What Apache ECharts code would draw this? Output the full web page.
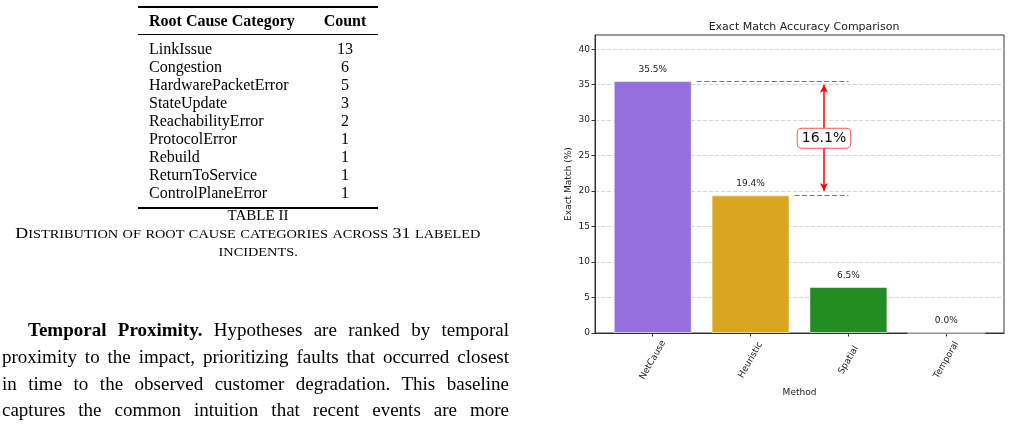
<!DOCTYPE html>
<html>
<head>
<meta charset="utf-8">
<script src="https://cdn.jsdelivr.net/npm/echarts@6/dist/echarts.min.js"></script>
<style>
  html, body { margin: 0; padding: 0; background: #fff; }
  #page { position: relative; width: 1011px; height: 425px; overflow: hidden; }
  #chart { position: absolute; left: 0; top: 0; width: 1011px; height: 425px; }
  .serif { font-family: "Liberation Serif", "Times New Roman", serif; color: #000; }
  .abs { position: absolute; white-space: nowrap; }
  .rule { position: absolute; left: 138px; width: 240px; background: #000; }
  .cell { position: absolute; font-size: 16px; line-height: 18px; }
  .para { position: absolute; font-size: 19px; line-height: 26px; width: 507px; left: 2px;
          text-align: justify; text-align-last: justify; white-space: nowrap; }
  .sc { font-size: 12px; }
  .capline { display: inline-block; transform-origin: 50% 50%; }
</style>
</head>
<body>
<div id="page">
  <div id="chart"></div>
  <div id="left" class="serif"></div>
</div>
<script>
// table on the left
var causeNames = ["LinkIssue", "Congestion", "HardwarePacketError", "StateUpdate",
  "ReachabilityError", "ProtocolError", "Rebuild", "ReturnToService", "ControlPlaneError"];
var causeCounts = [13, 6, 5, 3, 2, 1, 1, 1, 1];
var paraLines = [
  "Hypotheses are ranked by temporal",
  "proximity to the impact, prioritizing faults that occurred closest",
  "in time to the observed customer degradation. This baseline",
  "captures the common intuition that recent events are more",
  "likely to be causal."
];

// chart data
var methods = ["NetCause", "Heuristic", "Spatial", "Temporal"];
var accuracy = [35.5, 19.4, 6.5, 0.0];
var barColors = ["#9370DB", "#DAA520", "#228B22", "#DC143C"];
var yTicks = [0, 5, 10, 15, 20, 25, 30, 35, 40];

// small caps by hand: first capital of a word stays big
function smallCaps(str) {
  return str.split(" ").map(function (w) {
    if (/^[0-9]/.test(w)) return w;
    var first = w.charAt(0), rest = w.slice(1);
    if (/[A-Z]/.test(first)) {
      return first + '<span class="sc">' + rest.toUpperCase() + '</span>';
    }
    return '<span class="sc">' + w.toUpperCase() + '</span>';
  }).join(" ");
}

// build the left column as html
var left = document.getElementById("left");
var html = "";
html += '<div class="rule" style="top:6px;height:2px"></div>';
html += '<div class="cell abs" style="left:149px;top:12px;font-weight:bold">Root Cause Category</div>';
html += '<div class="cell abs" style="left:305px;width:80px;text-align:center;top:12px;font-weight:bold">Count</div>';
html += '<div class="rule" style="top:34px;height:1px"></div>';
for (var i = 0; i < causeNames.length; i++) {
  var rowTop = 40 + i * 18;
  html += '<div class="cell abs" style="left:149px;top:' + rowTop + 'px">' + causeNames[i] + '</div>';
  html += '<div class="cell abs" style="left:305px;width:80px;text-align:center;top:' + rowTop + 'px">' + causeCounts[i] + '</div>';
}
html += '<div class="rule" style="top:207px;height:2px"></div>';
html += '<div class="abs" style="left:158px;width:200px;text-align:center;top:207px;font-size:15px;line-height:16px">TABLE II</div>';
html += '<div class="abs" style="left:0px;width:496px;text-align:center;top:225px;font-size:15px;line-height:16px"><span class="capline" id="cap1">' + smallCaps("Distribution of root cause categories across 31 labeled") + '</span></div>';
html += '<div class="abs" style="left:158px;width:200px;text-align:center;top:243px;font-size:15px;line-height:16px"><span class="capline" id="cap2">' + smallCaps("incidents.") + '</span></div>';
for (var j = 0; j < paraLines.length; j++) {
  var lineTop = 317 + j * 26.8;
  if (j === 0) {
    html += '<div class="para" style="left:28px;width:481px;top:' + lineTop + 'px"><b>Temporal Proximity.</b> ' + paraLines[j] + '</div>';
  } else if (j === paraLines.length - 1) {
    html += '<div class="para" style="text-align-last:left;top:' + lineTop + 'px">' + paraLines[j] + '</div>';
  } else {
    html += '<div class="para" style="top:' + lineTop + 'px">' + paraLines[j] + '</div>';
  }
}
left.innerHTML = html;

// widen the caption to the width it has in the reference
var cap1 = document.getElementById("cap1");
var sx = 465 / cap1.getBoundingClientRect().width;
cap1.style.transform = "scaleX(" + sx.toFixed(3) + ")";
document.getElementById("cap2").style.transform = "scaleX(" + sx.toFixed(3) + ")";

// chart
var barData = [];
for (var k = 0; k < methods.length; k++) {
  barData.push({
    value: [k, accuracy[k]],
    itemStyle: { color: barColors[k] }
  });
}
var gap = +(accuracy[0] - accuracy[1]).toFixed(1);
var arrowX = 1.75;
var font = "DejaVu Sans";

var myChart = echarts.init(document.getElementById("chart"), null, { renderer: "canvas" });
var option = {
  animation: false,
  backgroundColor: "transparent",
  title: {
    text: "Exact Match Accuracy Comparison",
    left: 799,
    top: 17,
    textAlign: "center",
    textStyle: { fontFamily: font, fontSize: 11, fontWeight: "normal", color: "#222" }
  },
  grid: {
    left: 595, right: 7, top: 35, bottom: 92,
    show: true, borderColor: "#333", borderWidth: 1, backgroundColor: "transparent"
  },
  xAxis: {
    type: "value",
    min: -0.59,
    max: 3.59,
    name: "Method",
    nameLocation: "middle",
    nameGap: 51,
    nameTextStyle: { fontFamily: font, fontSize: 9, color: "#222" },
    axisLine: { show: true, onZero: false, lineStyle: { color: "#333" } },
    axisTick: { show: true, customValues: [0, 1, 2, 3], length: 3.5, lineStyle: { color: "#333" } },
    axisLabel: {
      customValues: [0, 1, 2, 3],
      formatter: function (v) { return methods[Math.round(v)]; },
      rotate: 60,
      align: "center",
      verticalAlign: "middle",
      margin: 27,
      fontFamily: font,
      fontSize: 9,
      color: "#222"
    },
    splitLine: { show: false }
  },
  yAxis: {
    type: "value",
    min: 0,
    max: 42,
    interval: 5,
    name: "Exact Match (%)",
    nameLocation: "middle",
    nameGap: 22,
    nameTextStyle: { fontFamily: font, fontSize: 9, color: "#222" },
    axisLine: { show: true, onZero: false, lineStyle: { color: "#333" } },
    axisTick: { show: true, customValues: yTicks, length: 3.5, lineStyle: { color: "#333" } },
    axisLabel: {
      customValues: yTicks,
      fontFamily: font,
      fontSize: 9,
      color: "#222",
      margin: 5
    },
    splitLine: { show: true, lineStyle: { color: "#ccc", type: [4, 2], width: 0.8 } }
  },
  series: [
    {
      type: "bar",
      barWidth: 78,
      data: barData,
      itemStyle: { borderColor: "rgba(255,255,255,0.55)", borderWidth: 1 },
      label: {
        show: true,
        position: "top",
        distance: 7,
        formatter: function (p) { return p.value[1].toFixed(1) + "%"; },
        fontFamily: font,
        fontSize: 9,
        color: "#222"
      },
      markLine: {
        silent: true,
        symbol: ["none", "none"],
        label: { show: false },
        lineStyle: { color: "#777", type: [5, 2.5], width: 1 },
        data: [
          [{ coord: [0.45, accuracy[0]] }, { coord: [2, accuracy[0]] }],
          [{ coord: [1.45, accuracy[1]] }, { coord: [2, accuracy[1]] }]
        ]
      },
      z: 2
    },
    {
      type: "line",
      data: [],
      markLine: {
        silent: true,
        symbol: ["arrow", "arrow"],
        symbolSize: [6, 8],
        label: { show: false },
        lineStyle: { color: "#ff0000", type: "solid", width: 1.5 },
        data: [
          [{ coord: [arrowX, accuracy[1] + 0.6] }, { coord: [arrowX, accuracy[0] - 0.5] }]
        ]
      },
      markPoint: {
        silent: true,
        symbol: "rect",
        symbolSize: 0.01,
        label: {
          show: true,
          formatter: gap.toFixed(1) + "%",
          fontFamily: font,
          fontSize: 14,
          color: "#111",
          backgroundColor: "#fff",
          borderColor: "#ff5555",
          borderWidth: 1,
          borderRadius: 4,
          padding: [3, 4, 2, 4]
        },
        data: [{ coord: [arrowX, (accuracy[0] + accuracy[1]) / 2] }]
      },
      z: 5
    }
  ]
};
myChart.setOption(option);
</script>
</body>
</html>
